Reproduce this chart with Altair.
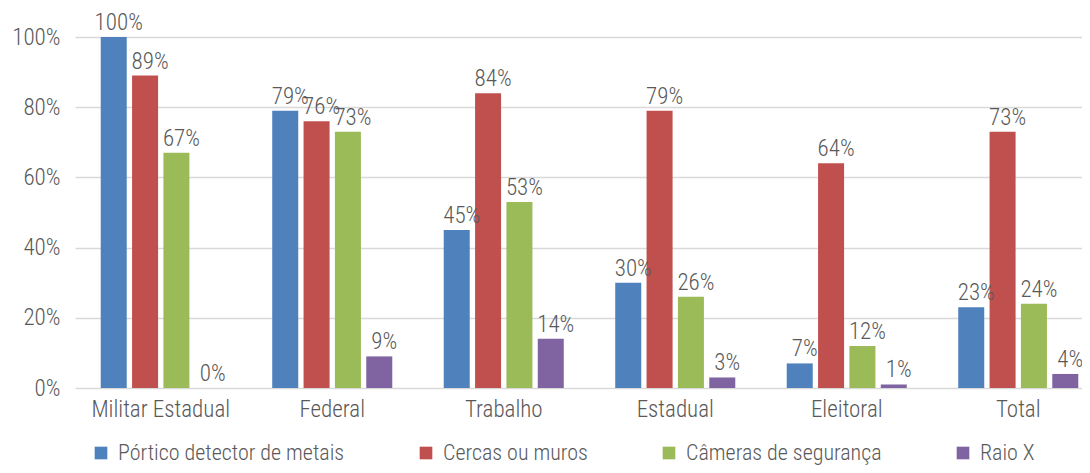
import altair as alt
import pandas as pd

categories = ["Militar Estadual", "Federal", "Trabalho", "Estadual", "Eleitoral", "Total"]
series_names = ["Pórtico detector de metais", "Cercas ou muros", "Câmeras de segurança", "Raio X"]
portico = [100, 79, 45, 30, 7, 23]
cercas = [89, 76, 84, 79, 64, 73]
cameras = [67, 73, 53, 26, 12, 24]
raio_x = [0, 9, 14, 3, 1, 4]
colors = ["#4F81BD", "#C0504D", "#9BBB59", "#8064A2"]

rows = []
for s, vals in zip(series_names, [portico, cercas, cameras, raio_x]):
    for c, v in zip(categories, vals):
        rows.append({"cat": c, "serie": s, "v": v})
df = pd.DataFrame(rows)

FONT = "Roboto Condensed"
TXT = "#595959"
FS = 23
FW = 300

x = alt.X("cat:N", sort=categories, title=None,
          scale=alt.Scale(range=[0, 1029], paddingInner=0.3, paddingOuter=0.15),
          axis=alt.Axis(labelAngle=0, domain=False, ticks=False, labelPadding=10,
                        labelFontSize=FS, labelColor=TXT, labelFont=FONT, labelFontWeight=FW))
xo = alt.XOffset("serie:N", sort=series_names, scale=alt.Scale(paddingInner=0.17))
y = alt.Y("v:Q", title=None,
          scale=alt.Scale(domain=[0, 100], nice=False),
          axis=alt.Axis(values=[0, 20, 40, 60, 80, 100], labelExpr="datum.value + '%'",
                        domain=False, ticks=False, labelPadding=15, labelFontSize=FS,
                        labelColor=TXT, labelFont=FONT, labelFontWeight=FW,
                        gridColor="#D9D9D9", gridWidth=1.5))
color = alt.Color("serie:N", sort=series_names, title=None,
                  scale=alt.Scale(domain=series_names, range=colors),
                  legend=alt.Legend(orient="none", legendX=15, legendY=405, direction="horizontal",
                                    symbolType="square", symbolSize=160, symbolStrokeWidth=0,
                                    labelFontSize=22, labelColor=TXT, labelFont=FONT,
                                    labelFontWeight=FW,
                                    columnPadding=70, labelOffset=6, labelLimit=400))

bars = alt.Chart(df).mark_bar().encode(x=x, xOffset=xo, y=y, color=color)
labels = alt.Chart(df).transform_calculate(lbl="datum.v + '%'").mark_text(
    baseline="bottom", dy=-2, dx=5, fontSize=FS, color=TXT, font=FONT, fontWeight=FW
).encode(x=x, xOffset=xo, y=y, text="lbl:N")

chart = (bars + labels).properties(
    width=1007, height=351,
    autosize=alt.AutoSizeParams(type="none"),
    padding={"left": 67, "top": 29, "right": 0, "bottom": 77},
).configure_view(stroke=None)

chart.save("out.html", embed_options={"renderer": "svg", "actions": False})
